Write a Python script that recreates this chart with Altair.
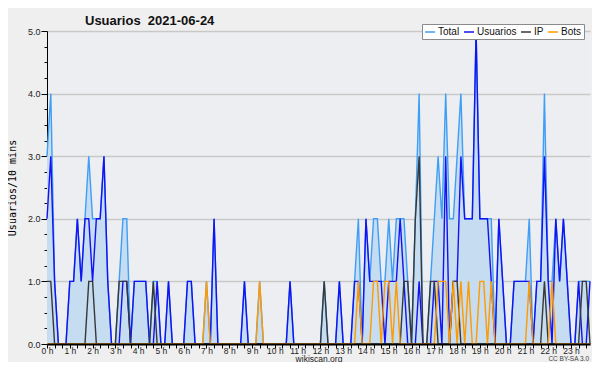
import altair as alt
import pandas as pd

# 10-minute slots over the day (144 slots), index 0..143
total = [3, 4, 1, 0, 0, 0, 1, 1, 2, 1, 2, 3, 2, 2, 2, 3, 1, 0, 0, 1, 2, 2, 0, 1,
         1, 1, 1, 0, 1, 1, 0, 0, 1, 0, 0, 0, 0, 1, 1, 0, 0, 0, 1, 0, 2, 0, 0, 0,
         0, 0, 0, 0, 1, 0, 0, 0, 1, 0, 0, 0, 0, 0, 0, 0, 1, 0, 0, 0, 0, 0, 0, 0,
         0, 1, 0, 0, 0, 1, 0, 0, 0, 1, 2, 0, 2, 1, 2, 2, 1, 1, 2, 1, 2, 2, 2, 1,
         0, 2, 4, 0, 0, 1, 2, 3, 2, 4, 2, 2, 3, 4, 2, 2, 2, 5, 2, 2, 2, 2, 0, 2,
         1, 0, 0, 1, 1, 1, 1, 2, 0, 1, 1, 4, 1, 1, 2, 1, 2, 1, 0, 0, 1, 1, 1, 1]
usuarios = [2, 3, 1, 0, 0, 0, 1, 1, 2, 1, 2, 2, 1, 2, 2, 3, 1, 0, 0, 0, 1, 1, 0, 1,
            1, 1, 1, 0, 0, 1, 0, 0, 1, 0, 0, 0, 0, 1, 1, 0, 0, 0, 0, 0, 2, 0, 0, 0,
            0, 0, 0, 0, 1, 0, 0, 0, 0, 0, 0, 0, 0, 0, 0, 0, 1, 0, 0, 0, 0, 0, 0, 0,
            0, 0, 0, 0, 0, 1, 0, 0, 0, 1, 1, 0, 2, 1, 1, 1, 1, 0, 1, 1, 1, 2, 1, 0,
            0, 0, 1, 0, 0, 0, 1, 1, 0, 3, 0, 1, 1, 3, 2, 2, 2, 5, 2, 2, 2, 1, 0, 2,
            1, 0, 0, 1, 1, 1, 1, 1, 0, 1, 1, 3, 1, 0, 2, 1, 2, 1, 0, 0, 1, 0, 0, 1]
ip = [1, 1, 0, 0, 0, 0, 0, 0, 0, 0, 0, 1, 1, 0, 0, 0, 0, 0, 0, 1, 1, 1, 0, 0,
      0, 0, 0, 0, 1, 0, 0, 0, 0, 0, 0, 0, 0, 0, 0, 0, 0, 0, 0, 0, 0, 0, 0, 0,
      0, 0, 0, 0, 0, 0, 0, 0, 0, 0, 0, 0, 0, 0, 0, 0, 0, 0, 0, 0, 0, 0, 0, 0,
      0, 1, 0, 0, 0, 0, 0, 0, 0, 0, 0, 0, 0, 0, 0, 0, 0, 0, 0, 0, 0, 0, 1, 1,
      0, 2, 3, 0, 0, 1, 1, 0, 0, 0, 0, 1, 1, 0, 0, 0, 0, 0, 0, 0, 0, 0, 0, 0,
      0, 0, 0, 0, 0, 0, 0, 0, 0, 0, 0, 1, 0, 0, 0, 0, 0, 0, 0, 0, 0, 1, 1, 0]
bots = [0, 0, 0, 0, 0, 0, 0, 0, 0, 0, 0, 0, 0, 0, 0, 0, 0, 0, 0, 0, 0, 0, 0, 0,
        0, 0, 0, 0, 0, 0, 0, 0, 0, 0, 0, 0, 0, 0, 0, 0, 0, 0, 1, 0, 0, 0, 0, 0,
        0, 0, 0, 0, 0, 0, 0, 0, 1, 0, 0, 0, 0, 0, 0, 0, 0, 0, 0, 0, 0, 0, 0, 0,
        0, 0, 0, 0, 0, 0, 0, 0, 0, 0, 1, 0, 0, 0, 1, 1, 0, 1, 1, 0, 1, 0, 0, 0,
        0, 0, 0, 0, 0, 0, 0, 1, 1, 1, 0, 1, 0, 1, 0, 1, 0, 0, 1, 1, 0, 1, 0, 0,
        0, 0, 0, 0, 0, 0, 0, 1, 0, 0, 0, 0, 0, 1, 0, 0, 0, 0, 0, 0, 0, 0, 0, 0]

series_names = ["Total", "Usuarios", "IP", "Bots"]
series_colors = ["#3f9ef6", "#1212f2", "#383838", "#ff9a00"]
fill_color = "#c6dcf0"

rows = []
for name, vals in zip(series_names, [total, usuarios, ip, bots]):
    for i, v in enumerate(vals):
        rows.append({"t": i, "serie": name, "v": v})
df = pd.DataFrame(rows)

x_enc = alt.X(
    "t:Q",
    scale=alt.Scale(domain=[0, 143], nice=False, zero=False),
    axis=alt.Axis(
        values=list(range(0, 144, 2)),
        labelExpr="datum.value % 6 == 0 ? (datum.value / 6) + ' h' : ''",
        labelOverlap=False,
        labelFlush=False,
        labelFontSize=8.5,
        labelFont="Liberation Sans",
        labelColor="#222",
        labelPadding=-2,
        tickSize=4,
        tickColor="#000",
        domainColor="#000",
        domainWidth=2,
        grid=False,
        zindex=1,
        titleFontSize=8.5,
        titleFont="Liberation Sans",
        titleFontWeight="normal",
        titleColor="#222",
        titlePadding=0,
    ),
    title="wikiscan.org",
)
y_enc = alt.Y(
    "v:Q",
    scale=alt.Scale(domain=[0, 5], nice=False),
    axis=alt.Axis(
        values=[k * 0.25 for k in range(21)],
        labelExpr="datum.value % 1 == 0 ? format(datum.value, '.1f') : ''",
        labelFlush=False,
        labelFontSize=9,
        labelFont="Liberation Sans",
        labelColor="#222",
        labelPadding=1,
        tickSize={"condition": {"test": "datum.value % 1 == 0", "value": 6}, "value": 3},
        tickColor="#000",
        domainColor="#000",
        grid=True,
        gridColor="#c9c9c9",
        gridWidth=1.5,
        gridOpacity={"condition": {"test": "datum.value % 1 == 0", "value": 1}, "value": 0},
        titleFont="DejaVu Sans Mono",
        titleFontSize=10,
        titleFontWeight="normal",
        titleColor="#000",
        titleAngle=270,
        titlePadding=10,
    ),
    title="Usuarios/10 mins",
)

color_enc = alt.Color(
    "serie:N",
    scale=alt.Scale(domain=series_names, range=series_colors),
    legend=alt.Legend(
        title=None,
        orient="none",
        legendX=375,
        legendY=-7,
        direction="horizontal",
        symbolType="stroke",
        symbolSize=100,
        symbolStrokeWidth=1.5,
        labelFontSize=10,
        labelFont="Liberation Sans",
        labelColor="#111",
        fillColor="#ffffff",
        strokeColor="#8a8a8a",
        padding=2,
        columnPadding=1,
        labelOffset=2,
    ),
)

base = alt.Chart(df)
area = base.transform_filter("datum.serie == 'Total'").mark_area(
    color=fill_color, opacity=1
).encode(x=x_enc, y=y_enc)

layers = [area]
for name in series_names:
    layers.append(
        base.transform_filter(f"datum.serie == '{name}'")
        .mark_line(strokeWidth=1.4)
        .encode(x=x_enc, y=y_enc, color=color_enc)
    )

credit = alt.Chart(pd.DataFrame({"txt": ["CC BY-SA 3.0"]})).mark_text(
    align="right", baseline="middle", fontSize=6.5, font="Liberation Sans", color="#444"
).encode(x=alt.value(542), y=alt.value(328), text="txt:N")
layers.append(credit)

chart = (
    alt.layer(*layers)
    .properties(
        width=543,
        height=313,
        autosize=alt.AutoSizeParams(type="none"),
        padding={"left": 39, "top": 23, "right": 2, "bottom": 18},
        title=alt.TitleParams(
            "Usuarios\u00a0\u00a02021-06-24",
            anchor="start",
            frame="group",
            dx=38,
            dy=10,
            fontSize=13,
            font="Liberation Sans",
            fontWeight="bold",
            color="#111",
            offset=6,
        ),
    )
    .configure(background="#efefef")
    .configure_view(fill="#eceef1", strokeWidth=0)
)

chart.save("out.html", embed_options={"renderer": "svg", "actions": False})
